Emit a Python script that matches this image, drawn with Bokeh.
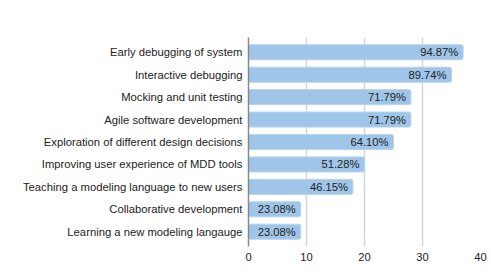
from bokeh.plotting import figure
from bokeh.models import ColumnDataSource, FactorRange, FixedTicker
from bokeh.core.properties import value
from bokeh.embed import file_html
from bokeh.resources import INLINE

categories = [
    "Early debugging of system",
    "Interactive debugging",
    "Mocking and unit testing",
    "Agile software development",
    "Exploration of different design decisions",
    "Improving user experience of MDD tools",
    "Teaching a modeling language to new users",
    "Collaborative development",
    "Learning a new modeling langauge",
]
counts = [37, 35, 28, 28, 25, 20, 18, 9, 9]
pct_labels = ["94.87%", "89.74%", "71.79%", "71.79%", "64.10%", "51.28%", "46.15%", "23.08%", "23.08%"]
x_ticks = [0, 10, 20, 30, 40]

FONT = "Liberation Sans"

source = ColumnDataSource(dict(cat=categories, count=counts, label=pct_labels))

p = figure(
    width=491, height=274,
    y_range=FactorRange(factors=categories[::-1], range_padding=0.035),
    x_range=(0, 40),
    output_backend="svg", toolbar_location=None,
    min_border_left=248, min_border_right=11, min_border_top=37, min_border_bottom=28,
)
p.outline_line_color = None
p.background_fill_color = "white"
p.border_fill_color = "white"

p.hbar(y="cat", right="count", left=0, height=0.67, source=source,
       fill_color="#9fc5e8", line_color="#b7d4ee", line_width=1, border_radius=2)

p.text(x="count", y="cat", text="label", source=source, x_offset=-5,
       text_align="right", text_baseline="middle", text_font=value(FONT),
       text_font_size="11.2px", text_color="#222222")

p.ygrid.grid_line_color = None
p.xgrid.ticker = FixedTicker(ticks=x_ticks)
p.xgrid.grid_line_color = "#d6d6d6"
p.xgrid.grid_line_width = 1.5

p.xaxis.ticker = FixedTicker(ticks=x_ticks)
p.xaxis.axis_line_color = None
p.xaxis.major_tick_line_color = None
p.xaxis.major_tick_out = 0
p.xaxis.minor_tick_line_color = None
p.xaxis.minor_tick_out = 0
p.xaxis.major_label_standoff = 6
p.xaxis.major_label_text_font = FONT
p.xaxis.major_label_text_font_size = "11.2px"
p.xaxis.major_label_text_color = "#222222"

p.yaxis.axis_line_color = "#888888"
p.yaxis.axis_line_width = 1.5
p.yaxis.major_tick_line_color = None
p.yaxis.major_tick_out = 0
p.yaxis.minor_tick_line_color = None
p.yaxis.minor_tick_out = 0
p.yaxis.major_label_standoff = 6
p.yaxis.major_label_text_font = FONT
p.yaxis.major_label_text_font_size = "11.25px"
p.yaxis.major_label_text_color = "#222222"

open("out.html", "w").write(file_html(p, INLINE))
